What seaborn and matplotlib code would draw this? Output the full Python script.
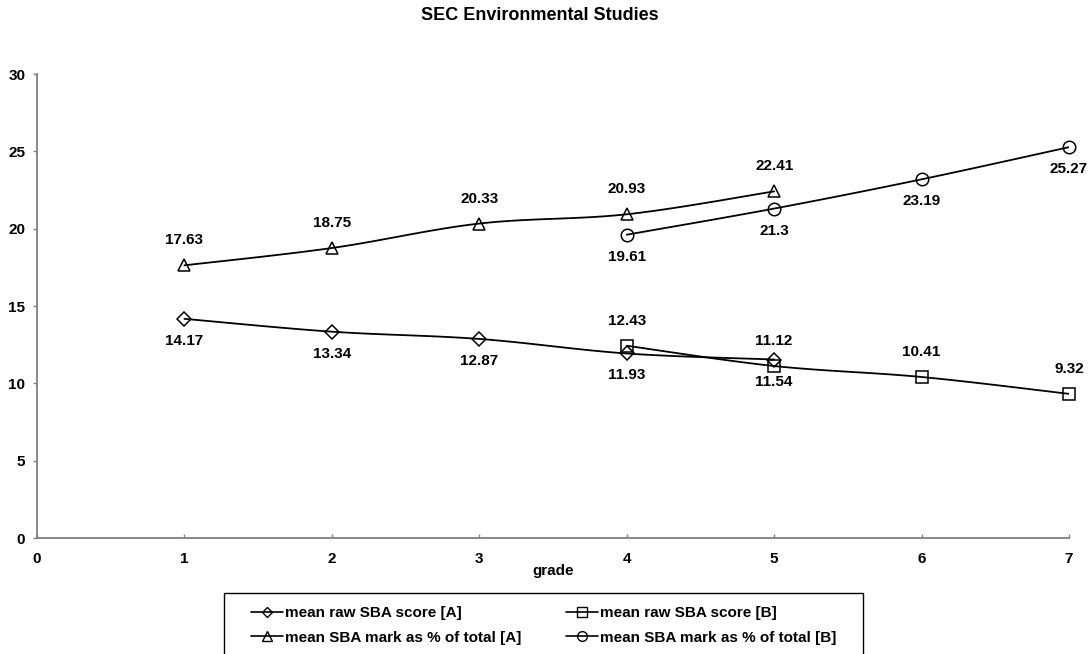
import numpy as np
import pandas as pd
import matplotlib
matplotlib.use("Agg")
import matplotlib.pyplot as plt
from matplotlib.lines import Line2D
from matplotlib.patches import Rectangle
import seaborn as sns

# ---- data ----
grades_A = [1, 2, 3, 4, 5]
grades_B = [4, 5, 6, 7]
raw_A = [14.17, 13.34, 12.87, 11.93, 11.54]
raw_B = [12.43, 11.12, 10.41, 9.32]
pct_A = [17.63, 18.75, 20.33, 20.93, 22.41]
pct_B = [19.61, 21.3, 23.19, 25.27]

series_names = ["mean raw SBA score [A]", "mean raw SBA score [B]",
                "mean SBA mark as % of total [A]", "mean SBA mark as % of total [B]"]

sns.set_theme(style="white")
plt.rcParams['font.family'] = ['Liberation Sans', 'DejaVu Sans']
plt.rcParams['font.weight'] = 'bold'
plt.rcParams['text.color'] = 'black'
plt.rcParams['xtick.color'] = 'black'
plt.rcParams['ytick.color'] = 'black'
plt.rcParams['axes.labelcolor'] = 'black'

fig = plt.figure(figsize=(10.88, 6.54), dpi=100)
ax = fig.add_axes([37/1088, 1-538/654, (1069-37)/1088, (538-74)/654])


def smooth(xs, ys, n=30):
    xs = np.asarray(xs, float); ys = np.asarray(ys, float)
    P = np.column_stack([xs, ys])
    out = []
    for i in range(len(P) - 1):
        p0 = P[i-1] if i > 0 else P[i]
        p1 = P[i]; p2 = P[i+1]
        p3 = P[i+2] if i + 2 < len(P) else P[i+1]
        c1 = p1 + (p2 - p0) / 6.0
        c2 = p2 - (p3 - p1) / 6.0
        t = np.linspace(0, 1, n)[:, None]
        seg = ((1-t)**3)*p1 + 3*((1-t)**2)*t*c1 + 3*(1-t)*t**2*c2 + t**3*p2
        out.append(seg if i == 0 else seg[1:])
    return np.vstack(out)


series = [
    (grades_A, raw_A, 'D', 7, -22),
    (grades_B, raw_B, 's', 9, 25),
    (grades_A, pct_A, '^', 9, 25),
    (grades_B, pct_B, 'o', 9, -22),
]

for (xs, ys, mk, ms, off), name in zip(series, series_names):
    curve = smooth(xs, ys)
    df = pd.DataFrame({"x": curve[:, 0], "y": curve[:, 1]})
    sns.lineplot(data=df, x="x", y="y", sort=False, color='black', lw=1.3,
                 ax=ax, legend=False, estimator=None)
    ax.plot(xs, ys, linestyle='none', marker=mk, markersize=ms,
            markerfacecolor='none', markeredgecolor='black', markeredgewidth=1.1,
            zorder=3, clip_on=False)
    for x, y in zip(xs, ys):
        ax.annotate(f"{y:g}", (x, y), xytext=(0, off), textcoords='offset pixels',
                    ha='center', va='center', fontsize=11, fontweight='bold',
                    color='black', annotation_clip=False)

ax.set_xlim(0, 7)
ax.set_ylim(0, 30)
ax.set_xticks(range(0, 8))
ax.set_yticks(range(0, 31, 5))
ax.set_xlabel("")
ax.set_ylabel("")
for s in ['top', 'right']:
    ax.spines[s].set_visible(False)
for s in ['left', 'bottom']:
    ax.spines[s].set_color('#808080')
    ax.spines[s].set_linewidth(1.3)
ax.tick_params(axis='y', direction='out', length=3, width=1, color='#808080',
               labelcolor='black', labelsize=11, pad=5.5, left=True)
ax.tick_params(axis='x', direction='in', length=3, width=1, color='#808080',
               labelcolor='black', labelsize=11, pad=10, bottom=True)
for lab in ax.get_xticklabels() + ax.get_yticklabels():
    lab.set_fontweight('bold')

fig.text(540/1088, 1-15/654, "SEC Environmental Studies", ha='center', va='center',
         fontsize=13, fontweight='bold')
fig.text(553/1088, 1-571/654, "grade", ha='center', va='center',
         fontsize=11, fontweight='bold')

handles = []
for (xs, ys, mk, ms, off), name in zip(series, series_names):
    handles.append(Line2D([], [], color='black', lw=1.2, marker=mk, markersize=ms-2,
                          markerfacecolor='none', markeredgecolor='black', label=name))
# row-major order: row1 = raw A, raw B ; row2 = pct A, pct B
order = [0, 2, 1, 3]
leg = fig.legend(handles=[handles[i] for i in order], ncol=2, loc='upper left',
                 bbox_to_anchor=(251/1088, 1-606/654), frameon=False,
                 prop={'size': 11, 'weight': 'bold'}, handlelength=2.1,
                 columnspacing=2.9, handletextpad=0.15, borderpad=0,
                 labelspacing=0.7, borderaxespad=0)
fig.patches.append(Rectangle((224/1088, -0.05), (863-224)/1088, 0.05 + (654-593)/654,
                             transform=fig.transFigure, fill=False,
                             edgecolor='black', linewidth=1.0))

fig.savefig("out.png", dpi=100)
